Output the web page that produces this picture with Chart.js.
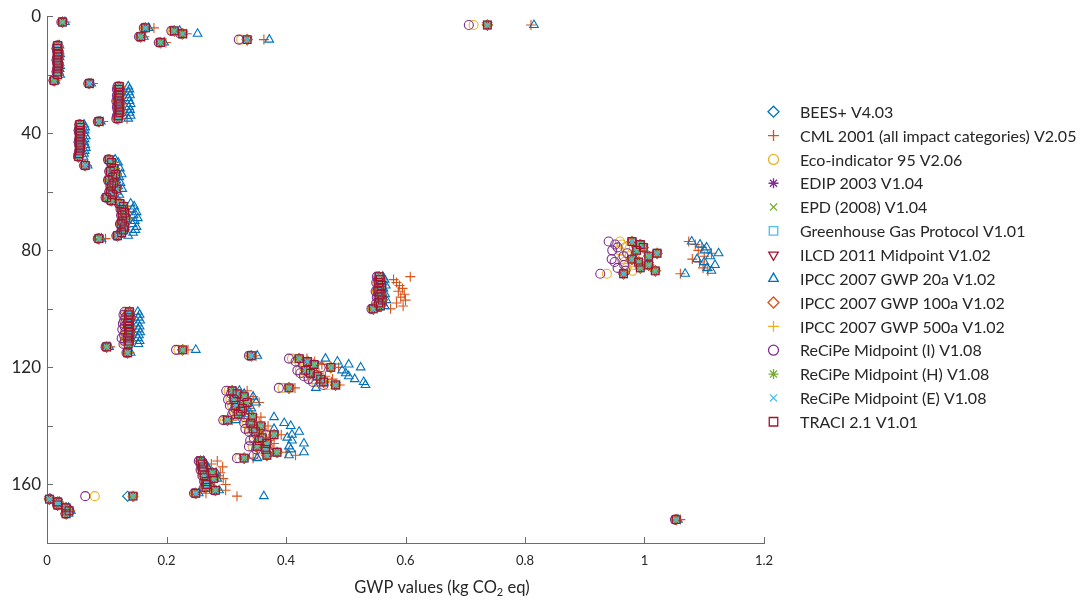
<!DOCTYPE html>
<html>
<head>
<meta charset="utf-8">
<script src="https://cdn.jsdelivr.net/npm/chart.js@4"></script>
<style>
  html, body { margin: 0; padding: 0; background: #fff; }
  #wrap { width: 1082px; height: 602px; }
</style>
</head>
<body>
<div id="wrap"><canvas id="gwpChart"></canvas></div>
<script>
// product index (y axis, reversed)
const rowIndex = [
  2, 3, 4, 5, 6, 7, 8, 9,
  10, 11, 12, 13, 14, 15, 16, 17, 18, 19, 20,
  22, 23,
  24, 25, 26, 27, 28, 29, 30, 31, 32, 33, 34, 35,
  36,
  37, 38, 39, 40, 41, 42, 43, 44, 45, 46, 47, 48,
  49, 50, 51, 52, 53, 54, 55, 56, 57, 58, 59, 60, 61, 62, 63,
  64, 65, 66, 67, 68, 69, 70, 71, 72, 73, 74, 75, 76,
  77, 78, 79, 80, 81, 82, 83, 84, 85, 86, 87, 88,
  89, 90, 91, 92, 93, 94, 95, 96, 97, 98, 99, 100,
  101, 102, 103, 104, 105, 106, 107, 108, 109, 110, 111, 112,
  113, 114, 115, 116,
  117, 118, 119, 120, 121, 122, 123, 124, 125, 126, 127,
  128, 129, 130, 131, 132, 133, 134, 135, 136, 137, 138, 139,
  140, 141, 142, 143, 144, 145, 146, 147, 148, 149, 150, 151,
  152, 153, 154, 155, 156, 157, 158, 159, 160, 161, 162, 163, 164,
  165, 166, 167, 168, 169, 170,
  172
];

// methods whose markers sit on top of each other share these values
const commonGwp = [
  0.026, 0.737, 0.165, 0.213, 0.227, 0.157, 0.335, 0.190,
  0.018, 0.017, 0.018, 0.019, 0.018, 0.017, 0.018, 0.019, 0.018, 0.017, 0.018,
  0.012, 0.071,
  0.121, 0.120, 0.122, 0.120, 0.121, 0.119, 0.122, 0.120, 0.121, 0.122, 0.120, 0.119,
  0.087,
  0.055, 0.056, 0.054, 0.055, 0.056, 0.055, 0.054, 0.055, 0.056, 0.055, 0.054, 0.053,
  0.104, 0.108, 0.064, 0.112, 0.106, 0.115, 0.110, 0.104, 0.112, 0.108, 0.116, 0.106, 0.110, 0.100, 0.108,
  0.122, 0.128, 0.125, 0.130, 0.126, 0.132, 0.127, 0.124, 0.130, 0.128, 0.125, 0.118, 0.087,
  0.979, 0.993, 0.998, 0.987, 1.021, 1.007, 0.979, 0.990, 1.007, 0.993, 1.018, 0.965,
  0.556, 0.558, 0.555, 0.560, 0.557, 0.554, 0.559, 0.556, 0.561, 0.555, 0.558, 0.546,
  0.138, 0.136, 0.139, 0.137, 0.135, 0.138, 0.136, 0.139, 0.137, 0.135, 0.138, 0.136,
  0.100, 0.227, 0.135, 0.342,
  0.422, 0.436, 0.447, 0.475, 0.433, 0.441, 0.452, 0.458, 0.463, 0.483, 0.405,
  0.310, 0.318, 0.330, 0.313, 0.335, 0.316, 0.327, 0.324, 0.320, 0.344, 0.302, 0.341,
  0.358, 0.345, 0.349, 0.380, 0.360, 0.355, 0.368, 0.352, 0.366, 0.385, 0.368, 0.330,
  0.257, 0.260, 0.262, 0.260, 0.277, 0.263, 0.279, 0.266, 0.268, 0.266, 0.282, 0.249, 0.144,
  0.004, 0.018, 0.018, 0.032, 0.037, 0.032,
  1.053
];

const beesGwp = [
  0.026, 0.737, 0.165, 0.213, 0.227, 0.157, 0.335, 0.190,
  0.018, 0.017, 0.018, 0.019, 0.018, 0.017, 0.018, 0.019, 0.018, 0.017, 0.018,
  0.012, 0.071,
  0.121, 0.120, 0.122, 0.120, 0.121, 0.119, 0.122, 0.120, 0.121, 0.122, 0.120, 0.119,
  0.087,
  0.055, 0.056, 0.054, 0.055, 0.056, 0.055, 0.054, 0.055, 0.056, 0.055, 0.054, 0.053,
  0.104, 0.108, 0.064, 0.112, 0.106, 0.115, 0.110, 0.104, 0.112, 0.108, 0.116, 0.106, 0.110, 0.100, 0.108,
  0.122, 0.128, 0.125, 0.130, 0.126, 0.132, 0.127, 0.124, 0.130, 0.128, 0.125, 0.118, 0.087,
  0.979, 0.993, 0.998, 0.987, 1.021, 1.007, 0.979, 0.990, 1.007, 0.993, 1.018, 0.965,
  0.556, 0.558, 0.555, 0.560, 0.557, 0.554, 0.559, 0.556, 0.561, 0.555, 0.558, 0.546,
  0.138, 0.136, 0.139, 0.137, 0.135, 0.138, 0.136, 0.139, 0.137, 0.135, 0.138, 0.136,
  0.100, 0.227, 0.135, 0.342,
  0.422, 0.436, 0.447, 0.475, 0.433, 0.441, 0.452, 0.458, 0.463, 0.483, 0.405,
  0.310, 0.318, 0.330, 0.313, 0.335, 0.316, 0.327, 0.324, 0.320, 0.344, 0.302, 0.341,
  0.358, 0.345, 0.349, 0.380, 0.360, 0.355, 0.368, 0.352, 0.366, 0.385, 0.368, 0.330,
  0.257, 0.260, 0.262, 0.260, 0.277, 0.263, 0.279, 0.266, 0.268, 0.266, 0.282, 0.249, 0.135,
  0.004, 0.018, 0.018, 0.032, 0.037, 0.032,
  1.053
];

const cmlGwp = [
  0.031, 0.810, 0.179, 0.218, 0.234, 0.163, 0.363, 0.199,
  0.019, 0.018, 0.019, 0.020, 0.019, 0.018, 0.019, 0.020, 0.019, 0.018, 0.019,
  0.014, 0.077,
  0.124, 0.123, 0.125, 0.123, 0.124, 0.122, 0.125, 0.123, 0.124, 0.125, 0.123, 0.134,
  0.094,
  0.057, 0.058, 0.056, 0.057, 0.058, 0.057, 0.056, 0.057, 0.058, 0.057, 0.056, 0.055,
  0.106, 0.110, 0.067, 0.114, 0.108, 0.117, 0.112, 0.106, 0.114, 0.110, 0.118, 0.108, 0.112, 0.102, 0.110,
  0.125, 0.131, 0.128, 0.133, 0.129, 0.135, 0.130, 0.127, 0.133, 0.131, 0.128, 0.121, 0.098,
  1.074, 1.085, 1.096, 1.090, 1.112, 1.100, 1.080, 1.092, 1.100, 1.098, 1.106, 1.060,
  0.608, 0.580, 0.585, 0.590, 0.595, 0.588, 0.598, 0.592, 0.600, 0.585, 0.596, 0.575,
  0.140, 0.138, 0.141, 0.139, 0.137, 0.140, 0.138, 0.141, 0.139, 0.137, 0.140, 0.138,
  0.106, 0.236, 0.138, 0.350,
  0.435, 0.448, 0.460, 0.488, 0.445, 0.455, 0.466, 0.478, 0.476, 0.490, 0.415,
  0.335, 0.325, 0.345, 0.320, 0.355, 0.322, 0.338, 0.332, 0.330, 0.358, 0.310, 0.355,
  0.370, 0.360, 0.362, 0.392, 0.372, 0.370, 0.380, 0.365, 0.378, 0.400, 0.416, 0.345,
  0.285, 0.275, 0.294, 0.270, 0.290, 0.287, 0.295, 0.280, 0.299, 0.275, 0.299, 0.266, 0.318,
  0.006, 0.020, 0.020, 0.034, 0.039, 0.034,
  1.060
];

const ecoGwp = [
  0.025, 0.714, 0.163, 0.210, 0.225, 0.155, 0.325, 0.188,
  0.017, 0.017, 0.017, 0.018, 0.018, 0.017, 0.017, 0.018, 0.018, 0.017, 0.017,
  0.011, 0.070,
  0.119, 0.118, 0.120, 0.118, 0.119, 0.117, 0.120, 0.118, 0.119, 0.120, 0.118, 0.117,
  0.086,
  0.054, 0.055, 0.053, 0.054, 0.055, 0.054, 0.053, 0.054, 0.055, 0.054, 0.053, 0.052,
  0.103, 0.107, 0.063, 0.111, 0.105, 0.114, 0.109, 0.103, 0.111, 0.107, 0.115, 0.105, 0.109, 0.099, 0.107,
  0.121, 0.127, 0.124, 0.129, 0.125, 0.131, 0.126, 0.123, 0.129, 0.127, 0.124, 0.117, 0.086,
  0.959, 0.962, 0.968, 0.958, 0.985, 0.975, 0.962, 0.966, 0.982, 0.970, 0.980, 0.937,
  0.554, 0.556, 0.553, 0.558, 0.555, 0.552, 0.557, 0.554, 0.559, 0.553, 0.556, 0.545,
  0.133, 0.131, 0.134, 0.132, 0.130, 0.133, 0.131, 0.134, 0.132, 0.130, 0.133, 0.131,
  0.099, 0.220, 0.134, 0.340,
  0.410, 0.422, 0.432, 0.462, 0.423, 0.430, 0.436, 0.445, 0.450, 0.470, 0.394,
  0.304, 0.312, 0.322, 0.307, 0.327, 0.310, 0.320, 0.317, 0.314, 0.336, 0.298, 0.334,
  0.350, 0.338, 0.342, 0.372, 0.352, 0.346, 0.358, 0.344, 0.356, 0.377, 0.356, 0.322,
  0.255, 0.258, 0.260, 0.258, 0.275, 0.261, 0.277, 0.264, 0.266, 0.264, 0.280, 0.247, 0.080,
  0.004, 0.017, 0.017, 0.031, 0.036, 0.031,
  1.052
];

const ipcc20Gwp = [
  0.030, 0.815, 0.170, 0.222, 0.252, 0.162, 0.372, 0.196,
  0.021, 0.020, 0.021, 0.022, 0.021, 0.020, 0.021, 0.022, 0.021, 0.020, 0.022,
  0.014, 0.074,
  0.136, 0.138, 0.137, 0.139, 0.136, 0.138, 0.140, 0.137, 0.139, 0.138, 0.140, 0.136,
  0.090,
  0.062, 0.064, 0.063, 0.062, 0.065, 0.063, 0.062, 0.064, 0.065, 0.063, 0.062, 0.061,
  0.114, 0.119, 0.068, 0.122, 0.117, 0.125, 0.121, 0.116, 0.123, 0.119, 0.126, 0.117, 0.121, 0.110, 0.119,
  0.140, 0.146, 0.143, 0.150, 0.145, 0.152, 0.147, 0.143, 0.150, 0.148, 0.144, 0.136, 0.091,
  1.079, 1.093, 1.104, 1.100, 1.124, 1.110, 1.088, 1.100, 1.118, 1.105, 1.112, 1.068,
  0.562, 0.565, 0.561, 0.567, 0.563, 0.560, 0.566, 0.562, 0.568, 0.561, 0.565, 0.552,
  0.152, 0.155, 0.153, 0.156, 0.152, 0.155, 0.153, 0.156, 0.154, 0.152, 0.155, 0.153,
  0.104, 0.249, 0.140, 0.352,
  0.466, 0.486, 0.505, 0.525, 0.494, 0.500, 0.505, 0.515, 0.530, 0.533, 0.450,
  0.322, 0.330, 0.345, 0.326, 0.350, 0.330, 0.342, 0.338, 0.335, 0.380, 0.316, 0.397,
  0.408, 0.380, 0.422, 0.410, 0.402, 0.410, 0.430, 0.405, 0.408, 0.430, 0.405, 0.352,
  0.262, 0.266, 0.268, 0.265, 0.283, 0.268, 0.285, 0.272, 0.274, 0.271, 0.288, 0.254, 0.363,
  0.006, 0.021, 0.022, 0.036, 0.040, 0.036,
  1.056
];

const recipeIGwp = [
  0.024, 0.706, 0.162, 0.208, 0.223, 0.154, 0.321, 0.187,
  0.017, 0.016, 0.017, 0.018, 0.017, 0.016, 0.017, 0.018, 0.017, 0.016, 0.017,
  0.011, 0.069,
  0.118, 0.117, 0.119, 0.117, 0.118, 0.116, 0.119, 0.117, 0.118, 0.119, 0.117, 0.116,
  0.085,
  0.054, 0.055, 0.053, 0.054, 0.055, 0.054, 0.053, 0.054, 0.055, 0.054, 0.053, 0.052,
  0.102, 0.106, 0.062, 0.110, 0.104, 0.113, 0.108, 0.102, 0.110, 0.106, 0.114, 0.104, 0.108, 0.098, 0.106,
  0.120, 0.126, 0.123, 0.128, 0.124, 0.130, 0.125, 0.122, 0.128, 0.126, 0.123, 0.116, 0.085,
  0.940, 0.951, 0.955, 0.946, 0.971, 0.965, 0.945, 0.950, 0.966, 0.955, 0.968, 0.926,
  0.552, 0.554, 0.551, 0.556, 0.553, 0.550, 0.555, 0.552, 0.557, 0.551, 0.554, 0.543,
  0.130, 0.128, 0.131, 0.129, 0.127, 0.130, 0.126, 0.131, 0.129, 0.125, 0.130, 0.128,
  0.098, 0.216, 0.133, 0.338,
  0.405, 0.416, 0.428, 0.458, 0.419, 0.424, 0.430, 0.438, 0.445, 0.463, 0.388,
  0.300, 0.308, 0.318, 0.303, 0.322, 0.306, 0.315, 0.312, 0.310, 0.330, 0.295, 0.330,
  0.345, 0.332, 0.338, 0.366, 0.346, 0.340, 0.352, 0.338, 0.350, 0.372, 0.346, 0.318,
  0.254, 0.257, 0.259, 0.257, 0.274, 0.260, 0.276, 0.263, 0.265, 0.263, 0.279, 0.246, 0.064,
  0.004, 0.017, 0.017, 0.031, 0.036, 0.031,
  1.051
];

const methodNames = [
  'BEES+ V4.03',
  'CML 2001 (all impact categories) V2.05',
  'Eco-indicator 95 V2.06',
  'EDIP 2003 V1.04',
  'EPD (2008) V1.04',
  'Greenhouse Gas Protocol V1.01',
  'ILCD 2011 Midpoint V1.02',
  'IPCC 2007 GWP 20a V1.02',
  'IPCC 2007 GWP 100a V1.02',
  'IPCC 2007 GWP 500a V1.02',
  'ReCiPe Midpoint (I) V1.08',
  'ReCiPe Midpoint (H) V1.08',
  'ReCiPe Midpoint (E) V1.08',
  'TRACI 2.1 V1.01'
];
const methodValues = [
  beesGwp, cmlGwp, ecoGwp, commonGwp, commonGwp, commonGwp, commonGwp,
  ipcc20Gwp, commonGwp, commonGwp, recipeIGwp, commonGwp, commonGwp, commonGwp
];
const methodColors = [
  '#0072BD', '#D95319', '#EDB120', '#7E2F8E', '#77AC30', '#4DBEEE', '#A2142F',
  '#0072BD', '#D95319', '#EDB120', '#7E2F8E', '#77AC30', '#4DBEEE', '#A2142F'
];
const methodMarkers = [
  'rectRot', 'cross', 'circle', 'star', 'crossRot', 'rect', 'triangle',
  'triangle', 'rectRot', 'cross', 'circle', 'star', 'crossRot', 'rect'
];
const markerSizes = { rectRot: 5, cross: 5, circle: 4.5, star: 4.5, crossRot: 4.5, rect: 5.5, triangle: 5 };

if (methodValues.some(v => v.length !== rowIndex.length)) throw new Error('length mismatch');

const FONT = 'Lato, "Open Sans", sans-serif';
const TEXT = '#262626';
const AXIS = '#6b6b6b';

const datasets = methodNames.map((name, i) => ({
  label: name,
  data: rowIndex.map((row, j) => ({ x: methodValues[i][j], y: row })),
  pointStyle: methodMarkers[i],
  pointRotation: i === 6 ? 180 : 0,
  pointRadius: markerSizes[methodMarkers[i]],
  pointHoverRadius: markerSizes[methodMarkers[i]],
  pointBorderWidth: 1.1,
  borderColor: methodColors[i],
  pointBorderColor: methodColors[i],
  pointBackgroundColor: 'rgba(0,0,0,0)',
  backgroundColor: 'rgba(0,0,0,0)',
  order: methodNames.length - 1 - i,
  clip: false
}));

const overlay = {
  id: 'overlay',
  afterDraw(chart) {
    const { ctx, chartArea, scales } = chart;
    ctx.save();
    // inward tick marks
    ctx.strokeStyle = AXIS;
    ctx.lineWidth = 1;
    scales.x.ticks.forEach(t => {
      const px = Math.round(scales.x.getPixelForValue(t.value)) + 0.5;
      ctx.beginPath();
      ctx.moveTo(px, chartArea.bottom);
      ctx.lineTo(px, chartArea.bottom - 6);
      ctx.stroke();
    });
    scales.y.ticks.forEach(t => {
      const py = Math.round(scales.y.getPixelForValue(t.value)) + 0.5;
      ctx.beginPath();
      ctx.moveTo(chartArea.left, py);
      ctx.lineTo(chartArea.left + 6, py);
      ctx.stroke();
    });

    // legend
    ctx.font = '16px ' + FONT;
    ctx.textBaseline = 'middle';
    ctx.textAlign = 'left';
    methodNames.forEach((name, i) => {
      const y = 111.7 + i * 23.85;
      ctx.strokeStyle = methodColors[i];
      ctx.fillStyle = 'rgba(0,0,0,0)';
      ctx.lineWidth = 1.3;
      Chart.helpers.drawPoint(ctx, {
        pointStyle: methodMarkers[i],
        rotation: i === 6 ? 180 : 0,
        radius: markerSizes[methodMarkers[i]] + 0.5,
        borderWidth: 1.3
      }, 773.5, y);
      ctx.fillStyle = TEXT;
      ctx.fillText(name, 800, y + 1);
    });

    // x axis title with subscript
    const main = 'GWP values (kg CO';
    const tail = ' eq)';
    const big = '16.5px ' + FONT;
    const small = '11px ' + FONT;
    ctx.font = big;
    const w1 = ctx.measureText(main).width;
    const w3 = ctx.measureText(tail).width;
    ctx.font = small;
    const w2 = ctx.measureText('2').width;
    const x0 = 442 - (w1 + w2 + w3) / 2;
    const ty = 588;
    ctx.fillStyle = TEXT;
    ctx.font = big;
    ctx.fillText(main, x0, ty);
    ctx.font = small;
    ctx.fillText('2', x0 + w1, ty + 4);
    ctx.font = big;
    ctx.fillText(tail, x0 + w1 + w2, ty);
    ctx.restore();
  }
};

new Chart(document.getElementById('gwpChart'), {
  type: 'scatter',
  data: { datasets },
  options: {
    responsive: true,
    maintainAspectRatio: false,
    animation: false,
    layout: { padding: { left: 0, right: 318, top: 12, bottom: 0 } },
    plugins: {
      legend: { display: false },
      tooltip: { enabled: false }
    },
    scales: {
      x: {
        type: 'linear',
        min: 0,
        max: 1.2,
        grid: { display: false, drawTicks: false },
        border: { display: true, color: AXIS, width: 1 },
        ticks: {
          stepSize: 0.2,
          padding: 10,
          color: TEXT,
          font: { family: FONT, size: 13 },
          maxRotation: 0,
          callback: v => String(Number(v.toFixed(1)))
        },
        afterFit: s => { s.height = 59; }
      },
      y: {
        type: 'linear',
        reverse: true,
        min: 0,
        max: 180,
        grid: { display: false, drawTicks: false },
        border: { display: true, color: AXIS, width: 1 },
        ticks: {
          stepSize: 20,
          autoSkip: false,
          padding: 6,
          color: TEXT,
          font: { family: FONT, size: 17 },
          callback: v => (v % 40 === 0 ? String(v) : '')
        },
        afterFit: s => { s.width = 47; }
      }
    }
  },
  plugins: [overlay]
});
</script>
</body>
</html>
